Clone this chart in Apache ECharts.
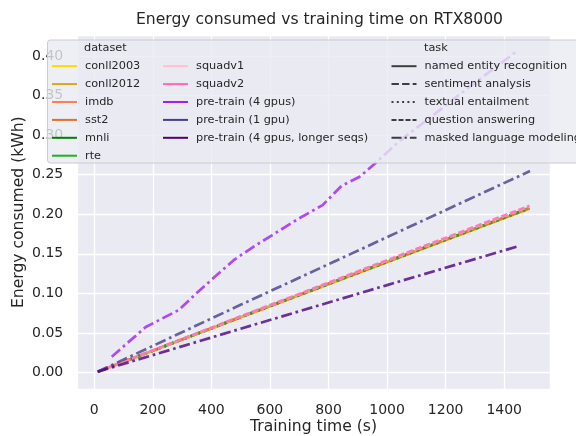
<!DOCTYPE html>
<html>
<head>
<meta charset="utf-8">
<script src="https://cdn.jsdelivr.net/npm/echarts@6/dist/echarts.min.js"></script>
<style>
html,body{margin:0;padding:0;background:#ffffff;}
#chart{width:576px;height:436px;}
</style>
</head>
<body>
<div id="chart"></div>
<script>
// ---- data ----
const datasetNames = ['conll2003','conll2012','imdb','sst2','mnli','rte','squadv1','squadv2','pre-train (4 gpus)','pre-train (1 gpu)','pre-train (4 gpus, longer seqs)'];
const taskNames = ['named entity recognition','sentiment analysis','textual entailment','question answering','masked language modeling'];

const conll2003Time = [12, 500, 1000, 1486];
const conll2003Energy = [0.001, 0.0695, 0.1393, 0.2068];
const conll2012Time = [12, 500, 1000, 1486];
const conll2012Energy = [0.001, 0.0697, 0.1396, 0.2072];
const imdbTime = [12, 500, 1000, 1486];
const imdbEnergy = [0.001, 0.0700, 0.1400, 0.2078];
const sst2Time = [12, 500, 1000, 1486];
const sst2Energy = [0.001, 0.0701, 0.1402, 0.2080];
const mnliTime = [12, 500, 1000, 1486];
const mnliEnergy = [0.001, 0.0699, 0.1399, 0.2076];
const rteTime = [12, 500, 1000, 1486];
const rteEnergy = [0.001, 0.0698, 0.1397, 0.2074];
const squadv1Time = [12, 500, 1000, 1486];
const squadv1Energy = [0.001, 0.0706, 0.1413, 0.2098];
const squadv2Time = [12, 500, 1000, 1486];
const squadv2Energy = [0.001, 0.0709, 0.1419, 0.2106];
const pretrain4Time = [60, 176, 289, 349, 403, 480, 553, 608, 699, 780, 845, 905, 960, 1044, 1150, 1250, 1350, 1443];
const pretrain4Energy = [0.020, 0.0575, 0.0790, 0.1000, 0.1180, 0.1430, 0.1610, 0.1736, 0.1946, 0.2115, 0.2360, 0.2470, 0.2645, 0.2930, 0.3230, 0.3520, 0.3800, 0.4060];
const pretrain1Time = [12, 500, 1000, 1488];
const pretrain1Energy = [0.001, 0.0855, 0.1710, 0.2545];
const pretrainLongTime = [12, 500, 1000, 1443];
const pretrainLongEnergy = [0.001, 0.0553, 0.1104, 0.1590];

// ---- styles ----
const colors = {
  'conll2003':'#FFD700','conll2012':'#DAA520','imdb':'#FF7F50','sst2':'#E0702C',
  'mnli':'#008000','rte':'#22B022','squadv1':'#FFC0CB','squadv2':'#FF69B4',
  'pre-train (4 gpus)':'#A020F0','pre-train (1 gpu)':'#483D8B','pre-train (4 gpus, longer seqs)':'#4B0082'
};
const lw = 2.7;
const dashFor = {
  'named entity recognition':'solid',
  'sentiment analysis':[10,4.3],
  'textual entailment':[2.7,4.4],
  'question answering':[6.5,2.7],
  'masked language modeling':[11,3.8,2.7,3.8]
};
const legendDash = {
  'named entity recognition':'solid',
  'sentiment analysis':[7.4,3.2],
  'textual entailment':[2,3.3],
  'question answering':[5,2],
  'masked language modeling':[10,3.2,2,3.2]
};
const FONT = 'DejaVu Sans';
const TXT = '#262626';

function pairs(xs, ys){ return xs.map((x,i)=>[x, ys[i]]); }

const real = [
  ['conll2003', conll2003Time, conll2003Energy, 'named entity recognition'],
  ['conll2012', conll2012Time, conll2012Energy, 'named entity recognition'],
  ['imdb', imdbTime, imdbEnergy, 'sentiment analysis'],
  ['sst2', sst2Time, sst2Energy, 'sentiment analysis'],
  ['mnli', mnliTime, mnliEnergy, 'textual entailment'],
  ['rte', rteTime, rteEnergy, 'textual entailment'],
  ['squadv1', squadv1Time, squadv1Energy, 'question answering'],
  ['squadv2', squadv2Time, squadv2Energy, 'question answering'],
  ['pre-train (4 gpus)', pretrain4Time, pretrain4Energy, 'masked language modeling'],
  ['pre-train (1 gpu)', pretrain1Time, pretrain1Energy, 'masked language modeling'],
  ['pre-train (4 gpus, longer seqs)', pretrainLongTime, pretrainLongEnergy, 'masked language modeling']
];

const series = [];
real.forEach(([name, xs, ys, task]) => {
  series.push({
    type:'line', name: name + ' / ' + task, data: pairs(xs, ys),
    symbol:'none', silent:true, z:2,
    lineStyle:{color: colors[name], width: lw, type: dashFor[task], opacity:0.8, cap:'butt'}
  });
});
// legend-only entries
datasetNames.forEach(n => {
  series.push({type:'line', name:n, data:[], symbol:'none', color: colors[n],
    itemStyle:{opacity:0}, lineStyle:{color: colors[n], width:2}});
});
taskNames.forEach(n => {
  series.push({type:'line', name:n, data:[], symbol:'none', color:'#3d3d3d',
    itemStyle:{opacity:0}, lineStyle:{color:'#3d3d3d', width:2, type: legendDash[n]}});
});

const legendCommon = {
  orient:'vertical', padding:0, itemWidth:25, itemHeight:12, itemGap:5.9,
  selectedMode:false, z:5,
  itemStyle:{opacity:0},
  textStyle:{fontSize:11.3, color:TXT, fontFamily:FONT, lineHeight:12, padding:[0,0,0,3]}
};

const chart = echarts.init(document.getElementById('chart'), null, {renderer:'canvas'});
chart.setOption({
  animation:false,
  backgroundColor:'#ffffff',
  title:{text:'Energy consumed vs training time on RTX8000', left:314.5, textAlign:'center', top:7,
    textStyle:{fontSize:15.6, fontWeight:'normal', color:TXT, fontFamily:FONT}},
  grid:{left:77.2, right:26.1, top:35, bottom:46.6, show:true, backgroundColor:'#EAEAF2', borderWidth:0,
    containLabel:false, outerBoundsMode:'none'},
  xAxis:{type:'value', min:-58, max:1556, splitNumber:8,
    name:'Training time (s)', nameLocation:'middle', nameGap:30, nameMoveOverlap:false,
    nameTextStyle:{fontSize:15.6, color:TXT, fontFamily:FONT},
    axisLine:{show:false}, axisTick:{show:false},
    axisLabel:{fontSize:14, color:TXT, fontFamily:FONT, margin:14, showMinLabel:false, showMaxLabel:false,
      formatter: v => String(Math.round(v))},
    splitLine:{show:true, lineStyle:{color:'#ffffff', width:1.3}}},
  yAxis:{type:'value', min:-0.0214, max:0.4265, splitNumber:9,
    name:'Energy consumed (kWh)', nameLocation:'middle', nameGap:50, nameRotate:90, nameMoveOverlap:false,
    nameTextStyle:{fontSize:15.6, color:TXT, fontFamily:FONT},
    axisLine:{show:false}, axisTick:{show:false},
    axisLabel:{fontSize:14, color:TXT, fontFamily:FONT, margin:14, showMinLabel:false, showMaxLabel:false,
      formatter: v => v.toFixed(2)},
    splitLine:{show:true, lineStyle:{color:'#ffffff', width:1.3}}},
  legend:[
    Object.assign({}, legendCommon, {left:51, top:60.2, data:datasetNames.slice(0,6)}),
    Object.assign({}, legendCommon, {left:162, top:60.2, data:datasetNames.slice(6)}),
    Object.assign({}, legendCommon, {left:390.5, top:60.2, data:taskNames})
  ],
  graphic:[
    {type:'rect', z:3, shape:{x:47.5, y:40, width:600, height:123, r:3},
      style:{fill:'rgba(234,234,242,0.8)', stroke:'#cccccc', lineWidth:1}},
    {type:'text', z:6, x:84, y:48.3, style:{text:'dataset', fontSize:11.3, fill:TXT, fontFamily:FONT, verticalAlign:'middle'}},
    {type:'text', z:6, x:424, y:48.3, style:{text:'task', fontSize:11.3, fill:TXT, fontFamily:FONT, verticalAlign:'middle'}}
  ],
  series: series
});
</script>
</body>
</html>
